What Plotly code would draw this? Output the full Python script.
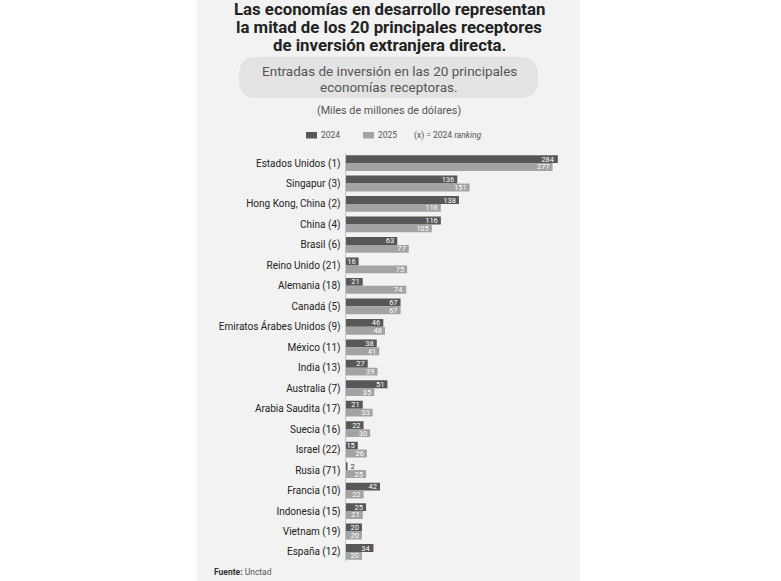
import plotly.graph_objects as go

W, H = 781, 581

countries = ["Estados Unidos (1)", "Singapur (3)", "Hong Kong, China (2)", "China (4)",
             "Brasil (6)", "Reino Unido (21)", "Alemania (18)", "Canadá (5)",
             "Emiratos Árabes Unidos (9)", "México (11)", "India (13)", "Australia (7)",
             "Arabia Saudita (17)", "Suecia (16)", "Israel (22)", "Rusia (71)",
             "Francia (10)", "Indonesia (15)", "Vietnam (19)", "España (12)"]
v2024 = [284, 136, 138, 116, 63, 16, 21, 67, 46, 38, 27, 51, 21, 22, 15, 2, 42, 25, 20, 34]
v2025 = [277, 151, 116, 105, 77, 75, 74, 67, 48, 41, 39, 35, 33, 30, 26, 25, 22, 21, 20, 20]
series_names = ["2024", "2025"]

title_lines = ["Las economías en desarrollo representan",
               "la mitad de los 20 principales receptores",
               "de inversión extranjera directa."]
subtitle_lines = ["Entradas de inversión en las 20 principales", "economías receptoras."]
units = "(Miles de millones de dólares)"
source = "<b>Fuente:</b> <span style='color:#555'>Unctad</span>"

FONT = "Roboto, Noto Sans, sans-serif"
colors = ["#575757", "#a3a3a3"]


def px(x):
    return x / W


def py(y):
    return 1 - y / H


def textpos(vals):
    return ["outside" if v < 5 else "inside" for v in vals]


fig = go.Figure()

for name, vals, color in zip(series_names, [v2024, v2025], colors):
    # rows 2..20 on the main scale
    fig.add_trace(go.Bar(
        y=countries[1:], x=vals[1:], orientation="h", name=name,
        marker=dict(color=color, line_width=0),
        text=[str(v) for v in vals[1:]], textposition=textpos(vals[1:]),
        insidetextanchor="end", textangle=0, constraintext="none",
        insidetextfont=dict(color="white", size=7.5, family=FONT),
        outsidetextfont=dict(color="#333", size=7.5, family=FONT),
        cliponaxis=False, showlegend=False, hoverinfo="skip"))
for name, vals, color in zip(series_names, [v2024, v2025], colors):
    # first row drawn on its own compressed scale, as in the original
    fig.add_trace(go.Bar(
        y=countries[:1], x=vals[:1], orientation="h", name=name, xaxis="x2",
        marker=dict(color=color, line_width=0),
        text=[str(v) for v in vals[:1]], textposition="inside",
        insidetextanchor="end", textangle=0, constraintext="none",
        insidetextfont=dict(color="white", size=7.5, family=FONT),
        cliponaxis=False, showlegend=False, hoverinfo="skip"))

shapes = [
    dict(type="rect", xref="paper", yref="paper", x0=px(197), x1=px(580), y0=0, y1=1,
         fillcolor="#f2f2f2", line_width=0, layer="below"),
]

# rounded subtitle box
bx0, bx1, by0, by1, r = 239, 538, 57, 98, 18
rx, ry = r / W, r / H
X0, X1, Y0, Y1 = px(bx0), px(bx1), py(by1), py(by0)
path = (f"M{X0+rx},{Y0} L{X1-rx},{Y0} Q{X1},{Y0} {X1},{Y0+ry} L{X1},{Y1-ry} "
        f"Q{X1},{Y1} {X1-rx},{Y1} L{X0+rx},{Y1} Q{X0},{Y1} {X0},{Y1-ry} "
        f"L{X0},{Y0+ry} Q{X0},{Y0} {X0+rx},{Y0} Z")
shapes.append(dict(type="path", xref="paper", yref="paper", path=path,
                   fillcolor="#e3e3e3", line_width=0, layer="below"))

# legend swatches
for (sx0, sx1), color in zip([(306, 317), (363, 374)], colors):
    shapes.append(dict(type="rect", xref="paper", yref="paper", x0=px(sx0), x1=px(sx1),
                       y0=py(138.5), y1=py(132), fillcolor=color, line_width=0))

annotations = []
for txt, yc in zip(title_lines, [8.5, 27, 45.5]):
    annotations.append(dict(text=f"<b>{txt}</b>", x=px(389), y=py(yc), xref="paper", yref="paper",
                            xanchor="center", yanchor="middle", showarrow=False,
                            font=dict(family=FONT, size=16.8, color="#222")))
for txt, yc in zip(subtitle_lines, [71.5, 87]):
    annotations.append(dict(text=txt, x=px(389), y=py(yc), xref="paper", yref="paper",
                            xanchor="center", yanchor="middle", showarrow=False,
                            font=dict(family=FONT, size=13.5, color="#555")))
annotations.append(dict(text=units, x=px(389), y=py(110), xref="paper", yref="paper",
                        xanchor="center", yanchor="middle", showarrow=False,
                        font=dict(family=FONT, size=10.8, color="#555")))
for txt, xl in zip(series_names + ["(x) = 2024 <i>ranking</i>"], [319, 376, 412]):
    annotations.append(dict(text=txt, x=px(xl), y=py(135), xref="paper", yref="paper",
                            xanchor="left", yanchor="middle", showarrow=False,
                            font=dict(family=FONT, size=8.5, color="#555")))
annotations.append(dict(text=source, x=px(212), y=py(571.5), xref="paper", yref="paper",
                        xanchor="left", yanchor="middle", showarrow=False,
                        font=dict(family=FONT, size=8.5, color="#333")))

dom = [px(345.5), px(580)]
fig.update_layout(
    width=W, height=H, margin=dict(l=0, r=0, t=0, b=0),
    paper_bgcolor="white", plot_bgcolor="rgba(0,0,0,0)",
    barmode="group", bargap=0.23, bargroupgap=0,
    xaxis=dict(domain=dom, range=[0, 234.5 / 0.822], visible=False, fixedrange=True),
    xaxis2=dict(overlaying="x", anchor="y", range=[0, 234.5 / 0.7476], visible=False),
    yaxis=dict(domain=[py(562.2), py(152.8)], type="category",
               categoryorder="array", categoryarray=countries,
               range=[19.5, -0.5], showline=True, linecolor="#c4c4c4", linewidth=1,
               showgrid=False, zeroline=False, ticks="", ticklabelstandoff=2,
               tickfont=dict(family=FONT, size=10, color="#222")),
    shapes=shapes, annotations=annotations, showlegend=False,
)

fig.write_html("out.html", config={"displayModeBar": False},
               post_script="document.body.style.margin='0';")
